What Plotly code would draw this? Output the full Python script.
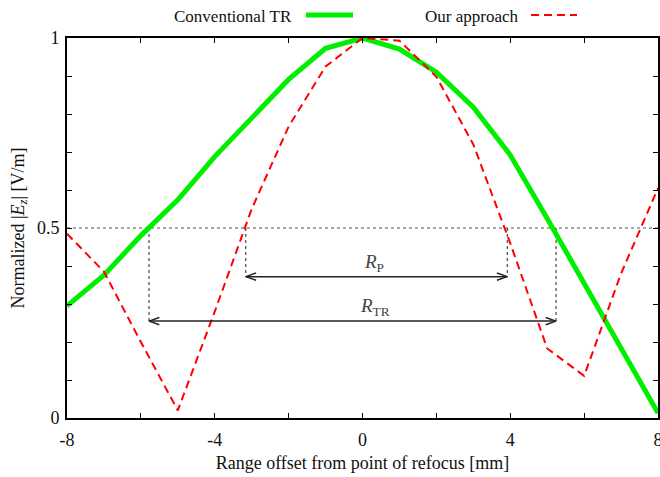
import plotly.graph_objects as go

# Range offset from the refocusing point [mm]
offset_mm = [-8, -7, -6, -5, -4, -3, -2, -1, 0, 1, 2, 3, 4, 5, 6, 7, 8]

# Normalized |E_z| for both methods
conventional_tr = [0.295, 0.376, 0.48, 0.574, 0.688, 0.79, 0.891, 0.973, 1.0,
                   0.971, 0.91, 0.818, 0.692, 0.525, 0.355, 0.185, 0.013]
our_approach = [0.485, 0.385, 0.20, 0.02, 0.28, 0.55, 0.767, 0.925, 1.0,
                0.993, 0.898, 0.72, 0.46, 0.183, 0.111, 0.38, 0.605]

# Half-power level and the resolution spans measured at it
half_level = 0.5
rp_span = [-3.16, 3.92]     # R_P, our approach
rtr_span = [-5.78, 5.24]    # R_TR, conventional TR
rp_arrow_y = 0.372
rtr_arrow_y = 0.255

x_tick_vals = [-8, -6, -4, -2, 0, 2, 4, 6, 8]
x_tick_text = ["-8", "", "-4", "", "0", "", "4", "", "8"]
y_tick_vals = [round(0.1 * i, 1) for i in range(11)]
y_tick_text = ["0", "", "", "", "", "0.5", "", "", "", "", "1"]

GREEN = "#00ee00"
RED = "#ff0000"
SERIF = "Liberation Serif"

fig = go.Figure()

# Half-level dotted reference line
fig.add_trace(go.Scatter(
    x=[offset_mm[0], offset_mm[-1]], y=[half_level, half_level],
    mode="lines", line=dict(color="#555555", width=1, dash="dot"),
    hoverinfo="skip", showlegend=False))

# Dotted drop lines from the half level down to each span arrow
for span, ay in ((rp_span, rp_arrow_y), (rtr_span, rtr_arrow_y)):
    for xv in span:
        fig.add_trace(go.Scatter(
            x=[xv, xv], y=[half_level, ay], mode="lines",
            line=dict(color="#222222", width=1, dash="dot"),
            hoverinfo="skip", showlegend=False))

fig.add_trace(go.Scatter(
    x=offset_mm, y=conventional_tr, mode="lines", name="Conventional TR",
    line=dict(color=GREEN, width=5), showlegend=False))
fig.add_trace(go.Scatter(
    x=offset_mm, y=our_approach, mode="lines", name="Our approach",
    line=dict(color=RED, width=2, dash="8px,5px"), showlegend=False))

# Double-headed span arrows with open V heads
head_dx = 0.28
head_dy = 0.0095
for span, ay in ((rp_span, rp_arrow_y), (rtr_span, rtr_arrow_y)):
    x0, x1 = span
    xs = [x0, x1, None,
          x0 + head_dx, x0, x0 + head_dx, None,
          x1 - head_dx, x1, x1 - head_dx]
    ys = [ay, ay, None,
          ay + head_dy, ay, ay - head_dy, None,
          ay + head_dy, ay, ay - head_dy]
    fig.add_trace(go.Scatter(
        x=xs, y=ys, mode="lines", line=dict(color="#222222", width=1.5),
        hoverinfo="skip", showlegend=False))

annotations = [
    dict(x=0.32, y=0.408, xref="x", yref="y", showarrow=False,
         text="<i>R</i><sub>P</sub>",
         font=dict(family=SERIF, size=19, color="#444444")),
    dict(x=0.35, y=0.292, xref="x", yref="y", showarrow=False,
         text="<i>R</i><sub>TR</sub>",
         font=dict(family=SERIF, size=19, color="#444444")),
    # Key entries: label text followed by its line sample
    dict(x=294, y=477 - 17, xref="paper", yref="paper", showarrow=False,
         text="Conventional TR", xanchor="right", yanchor="middle",
         font=dict(family=SERIF, size=17, color="#111111")),
    dict(x=520, y=477 - 17, xref="paper", yref="paper", showarrow=False,
         text="Our approach", xanchor="right", yanchor="middle",
         font=dict(family=SERIF, size=17, color="#111111")),
]

W, H = 660, 477
ML, MR, MT, MB = 67, 2, 38, 59
pw, ph = W - ML - MR, H - MT - MB


def px_to_paper(px, py):
    return (px - ML) / pw, (H - MB - py) / ph


for a in annotations:
    if a["xref"] == "paper":
        a["x"], a["y"] = px_to_paper(a["x"], H - a["y"])

g0 = px_to_paper(306, 15)
g1 = px_to_paper(353, 15)
r0 = px_to_paper(531, 15)
r1 = px_to_paper(577, 15)
shapes = [
    dict(type="line", xref="paper", yref="paper", x0=g0[0], y0=g0[1],
         x1=g1[0], y1=g1[1], line=dict(color=GREEN, width=5)),
    dict(type="line", xref="paper", yref="paper", x0=r0[0], y0=r0[1],
         x1=r1[0], y1=r1[1], line=dict(color=RED, width=2, dash="8px,5px")),
]

axis_common = dict(
    showgrid=False, zeroline=False, showline=True, linecolor="#000000",
    linewidth=2, mirror="ticks", ticks="inside", ticklen=5, tickwidth=1.2,
    tickcolor="#000000", automargin=False, ticklabeloverflow="allow",
    tickfont=dict(family=SERIF, size=18, color="#111111"))

fig.update_layout(
    width=W, height=H,
    margin=dict(l=ML, r=MR, t=MT, b=MB),
    paper_bgcolor="white", plot_bgcolor="white",
    annotations=annotations, shapes=shapes,
    xaxis=dict(range=[-8, 8], tickmode="array", tickvals=x_tick_vals,
               ticktext=x_tick_text, ticklabelstandoff=4,
               title=dict(text="Range offset from point of refocus [mm]",
                          font=dict(family=SERIF, size=18, color="#111111"),
                          standoff=8),
               **axis_common),
    yaxis=dict(range=[0, 1], tickmode="array", tickvals=y_tick_vals,
               ticktext=y_tick_text, ticklabelstandoff=2,
               title=dict(text="Normalized |<i>E</i><sub><i>z</i></sub>| [V/m]",
                          font=dict(family=SERIF, size=18, color="#111111"),
                          standoff=8),
               **axis_common),
)

fig.write_html("out.html")
